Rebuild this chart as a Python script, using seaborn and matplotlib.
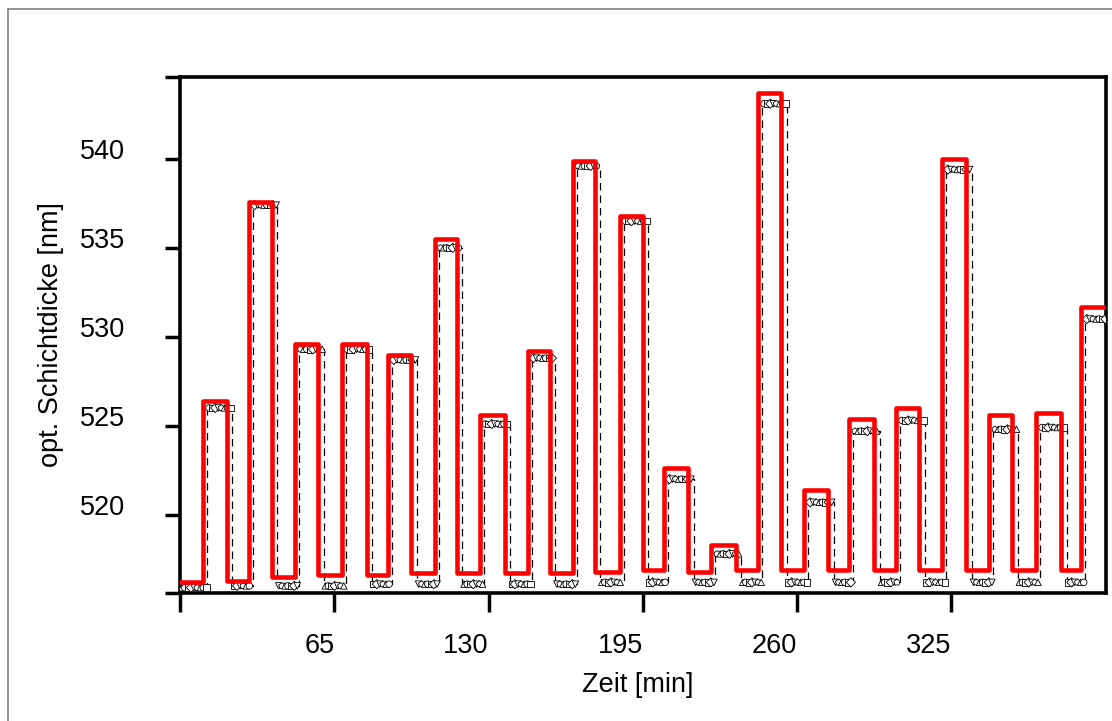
import matplotlib
matplotlib.use("Agg")
import matplotlib.pyplot as plt
from matplotlib.lines import Line2D
import numpy as np
import pandas as pd
import seaborn as sns

# switching times of the set-point (red) curve [min]
rise_t = [9.8, 29.0, 48.4, 68.1, 87.7, 107.3, 126.3, 146.5, 165.4, 185.2,
          203.8, 223.9, 243.7, 263.1, 282.0, 301.8, 321.2, 341.0, 360.8, 379.7]
fall_t = [19.7, 38.6, 58.2, 78.6, 97.5, 116.7, 136.8, 155.8, 174.7, 194.9,
          214.2, 234.1, 253.4, 273.2, 292.6, 311.5, 331.3, 350.7, 371.3, 390.0]

# optical thickness levels [nm]
red_high = [526.4, 537.6, 529.6, 529.6, 529.0, 535.5, 525.6, 529.2, 539.9, 536.8,
            522.6, 518.3, 543.7, 521.4, 525.4, 526.0, 540.0, 525.6, 525.7, 531.7]
red_base = [516.2, 516.3, 516.5, 516.6, 516.6, 516.7, 516.7, 516.7, 516.7, 516.8,
            516.9, 516.8, 516.9, 516.9, 516.9, 516.9, 516.9, 516.9, 516.9, 516.9]
meas_high = [526.0, 537.4, 529.3, 529.3, 528.7, 535.0, 525.1, 528.8, 539.6, 536.5,
             522.0, 517.8, 543.1, 520.7, 524.7, 525.3, 539.4, 524.8, 524.9, 531.0]
meas_base = [515.9, 516.0, 516.0, 516.0, 516.1, 516.1, 516.1, 516.1, 516.1, 516.2,
             516.2, 516.2, 516.2, 516.2, 516.2, 516.2, 516.2, 516.2, 516.2, 516.2]
lag_rise = 1.7
lag_fall = 2.3

x_ticks = [0, 65, 130, 195, 260, 325]
y_ticks = [520, 525, 530, 535, 540]
x_lim = (0, 390)
y_lim = (515.6, 544.6)


def step_series(rises, falls, high, base, t_end):
    t, v = [0.0], [base[0]]
    for i in range(len(rises)):
        t.append(rises[i])
        v.append(high[i])
        if i + 1 < len(rises):
            t.append(falls[i])
            v.append(base[i + 1])
    t.append(t_end)
    v.append(v[-1])
    return np.array(t), np.array(v)


red_t, red_v = step_series(rise_t, fall_t, red_high, red_base, x_lim[1])
meas_t, meas_v = step_series([r + lag_rise for r in rise_t], [f + lag_fall for f in fall_t],
                             meas_high, meas_base, x_lim[1] + 5)

# symbols sitting on each plateau of the measured curve
symbols = ["^", "o", "s", "D", "v", "p"]
rows = []
for k in range(len(meas_t) - 1):
    for j, tt in enumerate(np.arange(meas_t[k] + 0.7, meas_t[k + 1] - 0.3, 1.3)):
        rows.append({"t": tt, "v": meas_v[k], "sym": symbols[(k + j) % len(symbols)]})
marks = pd.DataFrame(rows)

sns.set_theme(style="white")
plt.rcParams["font.family"] = ["Liberation Sans", "DejaVu Sans"]
plt.rcParams["text.color"] = "black"
plt.rcParams["axes.labelcolor"] = "black"

fig = plt.figure(figsize=(11.12, 7.21), dpi=100)
ax = fig.add_axes([0.1619, 0.1775, 0.8323, 0.7157])

sns.lineplot(x=meas_t, y=meas_v, drawstyle="steps-post", color="black", lw=0.9,
             linestyle=(0, (6, 4)), sort=False, estimator=None, ax=ax, zorder=2)
sns.scatterplot(data=marks, x="t", y="v", style="sym", markers={s: s for s in symbols},
                color="white", edgecolor="black", linewidth=0.6, s=22, legend=False,
                ax=ax, zorder=3)
sns.lineplot(x=red_t, y=red_v, drawstyle="steps-post", color="#ff0000", lw=3.3,
             sort=False, estimator=None, ax=ax, zorder=4)

ax.set_xlim(*x_lim)
ax.set_ylim(*y_lim)
ax.set_xticks([x_lim[0]] + x_ticks[1:])
ax.set_xticklabels([""] + [str(v) for v in x_ticks[1:]], ha="right")
ax.set_yticks([y_lim[0]] + y_ticks + [y_lim[1]])
ax.set_yticklabels([""] + [str(v) for v in y_ticks] + [""], va="baseline")
ax.tick_params(axis="x", direction="out", length=13.5, width=2.5, pad=15,
               labelsize=19.5, colors="black", bottom=True)
ax.tick_params(axis="y", direction="out", length=10.8, width=2.5, pad=29,
               labelsize=19.5, colors="black", left=True)
for sp in ax.spines.values():
    sp.set_visible(True)
    sp.set_color("black")
    sp.set_linewidth(2.6)

ax.set_xlabel("Zeit [min]", fontsize=19.5, color="black")
ax.set_ylabel("opt. Schichtdicke [nm]", fontsize=19.5, color="black")
ax.xaxis.set_label_coords(0.495, -0.153)
ax.yaxis.set_label_coords(-0.125, 0.5)

# thin grey frame around the picture (top and left edge)
fig.add_artist(Line2D([8 / 1112, 8 / 1112], [0, 1 - 9 / 721], color="#808080", lw=1.2))
fig.add_artist(Line2D([8 / 1112, 1], [1 - 9 / 721, 1 - 9 / 721], color="#808080", lw=1.2))

fig.savefig("out.png", dpi=100)
plt.close(fig)
